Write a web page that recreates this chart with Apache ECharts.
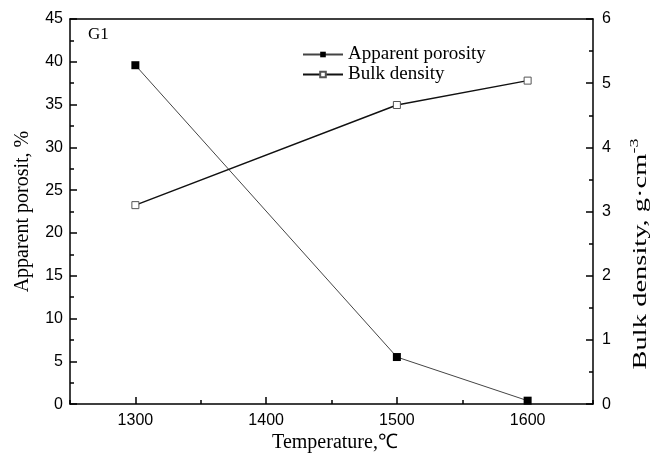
<!DOCTYPE html>
<html>
<head>
<meta charset="utf-8">
<script src="https://cdn.jsdelivr.net/npm/echarts@6/dist/echarts.min.js"></script>
<style>
  html, body { margin: 0; padding: 0; background: #fff; }
  #main { width: 653px; height: 458px; }
</style>
</head>
<body>
<div id="main"></div>
<script>
// data
const temps = [1300, 1500, 1600];
const porosity = [39.6, 5.5, 0.4];
const bulkDensity = [3.1, 4.66, 5.04];
const tickCats = ['1250', '1300', '1350', '1400', '1450', '1500', '1550', '1600', '1650'];

const serif = 'Liberation Serif, Times New Roman, serif';
const sans = 'Liberation Sans, Arial, sans-serif';

let chart = echarts.init(document.getElementById('main'));

var option = {
  animation: false,
  title: {
    text: 'G1',
    left: 88,
    top: 26,
    padding: 0,
    textStyle: { fontFamily: serif, fontSize: 17, fontWeight: 'normal', color: '#000' }
  },
  legend: {
    orient: 'vertical',
    left: 302,
    top: 45,
    padding: 0,
    itemWidth: 40,
    itemHeight: 7,
    itemGap: 1,
    textStyle: { fontFamily: serif, fontSize: 19, color: '#000' },
    data: ['Apparent porosity', 'Bulk density']
  },
  // right axis title is stretched in the original, drawn by hand
  graphic: [{
    type: 'text',
    x: 641,
    y: 254,
    rotation: Math.PI / 2,
    scaleX: 1.5,
    style: {
      text: '{a|Bulk density, g·cm}{s|-3}',
      align: 'center',
      verticalAlign: 'middle',
      rich: {
        a: { fontFamily: serif, fontSize: 19, fill: '#000' },
        s: { fontFamily: serif, fontSize: 12, fill: '#000', verticalAlign: 'top', padding: [0, 0, 12, 0] }
      }
    }
  }],
  grid: { left: 70, right: 60, top: 19, bottom: 53 },
  xAxis: [{
    type: 'value',
    position: 'bottom',
    min: 1250,
    max: 1650,
    interval: 50,
    name: 'Temperature,℃',
    nameLocation: 'middle',
    nameGap: 27,
    nameTextStyle: { fontFamily: serif, fontSize: 20, color: '#000', padding: [0, 0, 0, 7] },
    axisLine: { lineStyle: { color: '#000', width: 1.5 } },
    axisTick: { inside: true, length: 4, lineStyle: { color: '#000', width: 1.5 } },
    splitLine: { show: false },
    axisLabel: {
      fontFamily: sans, fontSize: 16, color: '#000', margin: 8,
      formatter: v => (v % 100 === 0 && v > 1250 && v < 1650) ? String(v) : ''
    }
  }, {
    type: 'category',
    position: 'bottom',
    data: tickCats,
    boundaryGap: false,
    axisLine: { show: false },
    axisLabel: { show: false },
    axisTick: {
      inside: true, length: 7,
      interval: (i) => i % 2 === 1 && i < tickCats.length - 1,
      lineStyle: { color: '#000', width: 1.5 }
    },
    splitLine: { show: false }
  }, {
    type: 'value',
    position: 'top',
    min: 1250,
    max: 1650,
    axisLine: { show: true, lineStyle: { color: '#000', width: 1.5 } },
    axisTick: { show: false },
    axisLabel: { show: false },
    splitLine: { show: false }
  }],
  yAxis: [{
    type: 'value',
    position: 'left',
    min: 0,
    max: 45,
    interval: 5,
    name: 'Apparent porosit, %',
    nameLocation: 'middle',
    nameRotate: 90,
    nameGap: 37,
    nameTextStyle: { fontFamily: serif, fontSize: 20, color: '#000' },
    axisLine: { show: true, lineStyle: { color: '#000', width: 1.5 } },
    axisTick: { inside: true, length: 7, lineStyle: { color: '#000', width: 1.5 } },
    minorTick: { show: true, splitNumber: 2, length: 4, lineStyle: { color: '#000', width: 1.5 } },
    splitLine: { show: false },
    axisLabel: { fontFamily: sans, fontSize: 16, color: '#000', margin: 7 }
  }, {
    type: 'value',
    position: 'right',
    min: 0,
    max: 6,
    interval: 1,
    axisLine: { show: true, lineStyle: { color: '#000', width: 1.5 } },
    axisTick: { inside: true, length: 7, lineStyle: { color: '#000', width: 1.5 } },
    minorTick: { show: true, splitNumber: 2, length: 4, lineStyle: { color: '#000', width: 1.5 } },
    splitLine: { show: false },
    axisLabel: { fontFamily: sans, fontSize: 16, color: '#000', margin: 9 }
  }],
  series: [{
    name: 'Apparent porosity',
    type: 'line',
    xAxisIndex: 0,
    yAxisIndex: 0,
    data: temps.map((t, i) => [t, porosity[i]]),
    symbol: 'rect',
    symbolSize: 8,
    itemStyle: { color: '#000' },
    lineStyle: { color: '#444', width: 1 }
  }, {
    name: 'Bulk density',
    type: 'line',
    xAxisIndex: 0,
    yAxisIndex: 1,
    data: temps.map((t, i) => [t, bulkDensity[i]]),
    symbol: 'rect',
    symbolSize: 7,
    itemStyle: { color: '#fff', borderColor: '#555', borderWidth: 1 },
    lineStyle: { color: '#111', width: 1.5 }
  }]
};

chart.setOption(option);
</script>
</body>
</html>
